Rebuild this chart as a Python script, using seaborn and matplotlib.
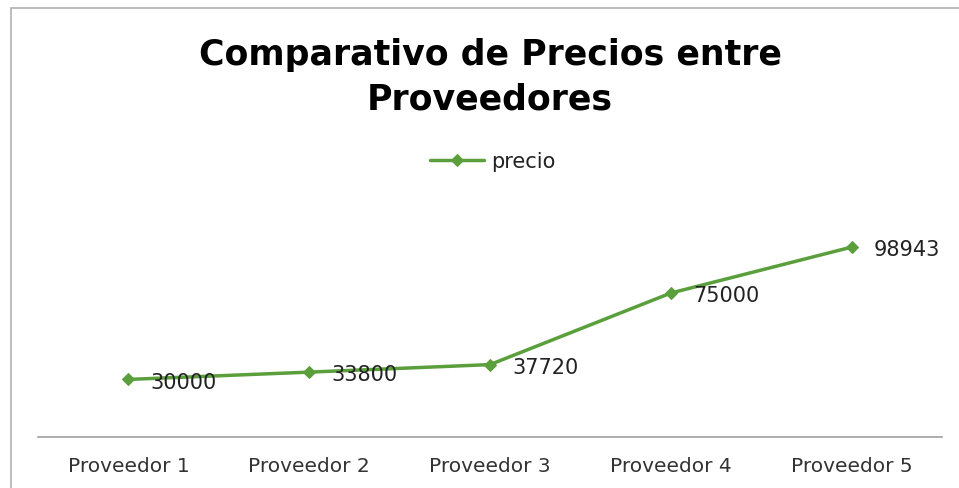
import numpy as np
import pandas as pd
import seaborn as sns
import matplotlib.pyplot as plt
from matplotlib.patches import Rectangle

proveedores = ["Proveedor 1", "Proveedor 2", "Proveedor 3", "Proveedor 4", "Proveedor 5"]
precio = [30000, 33800, 37720, 75000, 98943]

df = pd.DataFrame({"proveedor": proveedores, "precio": precio})

sns.set_style("white")
plt.rcParams['font.family'] = ['DejaVu Sans']

green = "#5A9F3C"

fig = plt.figure(figsize=(9.59, 4.89), dpi=100)
# chart border
fig.patches.append(Rectangle((11 / 959, -0.1), 1.2, 1 - 9 / 489 + 0.1,
                             transform=fig.transFigure, fill=False,
                             edgecolor="#b0b0b0", linewidth=1.2))

ax = fig.add_axes([38 / 959, 1 - 438 / 489, (942 - 38) / 959, 0.471])
x = np.arange(len(proveedores))
sns.lineplot(x=x, y=df["precio"], ax=ax, color=green, linewidth=2.5,
             marker="D", markersize=6, markeredgecolor=green, label="precio")

for xi, v in zip(x, precio):
    ax.annotate(str(v), (xi, v), xytext=(16, -1.5), textcoords="offset points",
                ha="left", va="center", fontsize=15, color="#222222")

ax.set_xlim(-0.5, 4.5)
ax.set_ylim(0, 120000)
ax.set_xticks(x)
ax.set_xticklabels(proveedores, fontsize=14.5, color="#333333")
ax.tick_params(axis="x", length=0, pad=14)
ax.set_yticks([])
ax.set_xlabel("")
ax.set_ylabel("")
for s in ["top", "left", "right"]:
    ax.spines[s].set_visible(False)
ax.spines["bottom"].set_color("#a0a0a0")
ax.spines["bottom"].set_linewidth(1.2)

leg = ax.legend(loc="center", bbox_to_anchor=(0.514, 1 - 162 / 489), bbox_transform=fig.transFigure,
                frameon=False, fontsize=15, handlelength=2.6, handletextpad=0.35)
for t in leg.get_texts():
    t.set_color("#222222")

fig.text(0.511, 1 - 77 / 489, "Comparativo de Precios entre\nProveedores", ha="center", va="center",
         fontsize=25, fontweight="bold", color="black", linespacing=1.38)

fig.savefig("out.png", dpi=100)
